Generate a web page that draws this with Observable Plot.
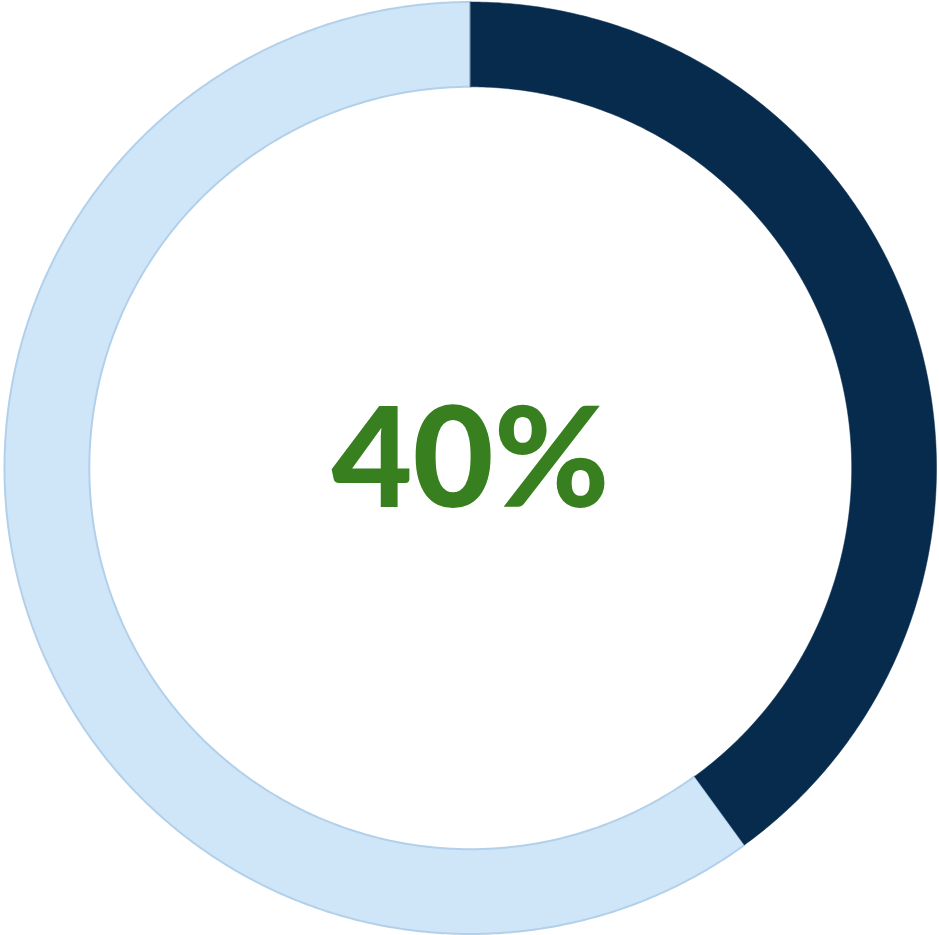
<!DOCTYPE html>
<html>
<head>
<meta charset="utf-8">
<script src="https://cdn.jsdelivr.net/npm/d3@7"></script>
<script src="https://cdn.jsdelivr.net/npm/@observablehq/plot@0.6"></script>
<style>
  html, body { margin: 0; padding: 0; background: #ffffff; }
  #chart svg { display: block; }
</style>
</head>
<body>
<div id="chart"></div>
<script>
// Data
const categories = ["Achieved", "Remaining"];
const values = [40, 60];
const colors = ["#062B4D", "#CFE6F9"];
const strokes = ["#062B4D", "#B3D0EA"];
const centerLabel = "40%";

const innerRatio = 0.818;
const total = d3.sum(values);

// Build ring segment polygons from the data values
const segments = [];
let acc = 0;
categories.forEach((name, i) => {
  const a0 = acc / total * 2 * Math.PI;
  acc += values[i];
  const a1 = acc / total * 2 * Math.PI;
  const n = Math.max(8, Math.ceil((a1 - a0) / (Math.PI / 360)));
  const pts = [];
  for (let k = 0; k <= n; k++) {
    const a = a0 + (a1 - a0) * k / n;
    pts.push({name, x: Math.sin(a), y: Math.cos(a)});
  }
  for (let k = n; k >= 0; k--) {
    const a = a0 + (a1 - a0) * k / n;
    pts.push({name, x: innerRatio * Math.sin(a), y: innerRatio * Math.cos(a)});
  }
  segments.push(...pts);
});

const chart = Plot.plot({
  width: 939,
  height: 935,
  marginLeft: 4,
  marginRight: 3,
  marginTop: 1.5,
  marginBottom: 1.5,
  x: {domain: [-1, 1], axis: null},
  y: {domain: [-1, 1], axis: null},
  color: {domain: categories, range: colors},
  marks: [
    Plot.line(segments.filter(d => d.name === categories[1]), {
      x: "x", y: "y", z: "name", fill: colors[1], stroke: strokes[1], strokeWidth: 2, curve: "linear-closed"
    }),
    Plot.line(segments.filter(d => d.name === categories[0]), {
      x: "x", y: "y", z: "name", fill: colors[0], stroke: strokes[0], strokeWidth: 0.5, curve: "linear-closed"
    }),
    Plot.text([centerLabel], {
      frameAnchor: "middle",
      text: d => d,
      fill: "#38801F",
      fontSize: 140,
      fontWeight: 900,
      fontFamily: "Lato",
      dy: -6,
      dx: 0
    })
  ]
});
document.getElementById("chart").appendChild(chart);
</script>
</body>
</html>
